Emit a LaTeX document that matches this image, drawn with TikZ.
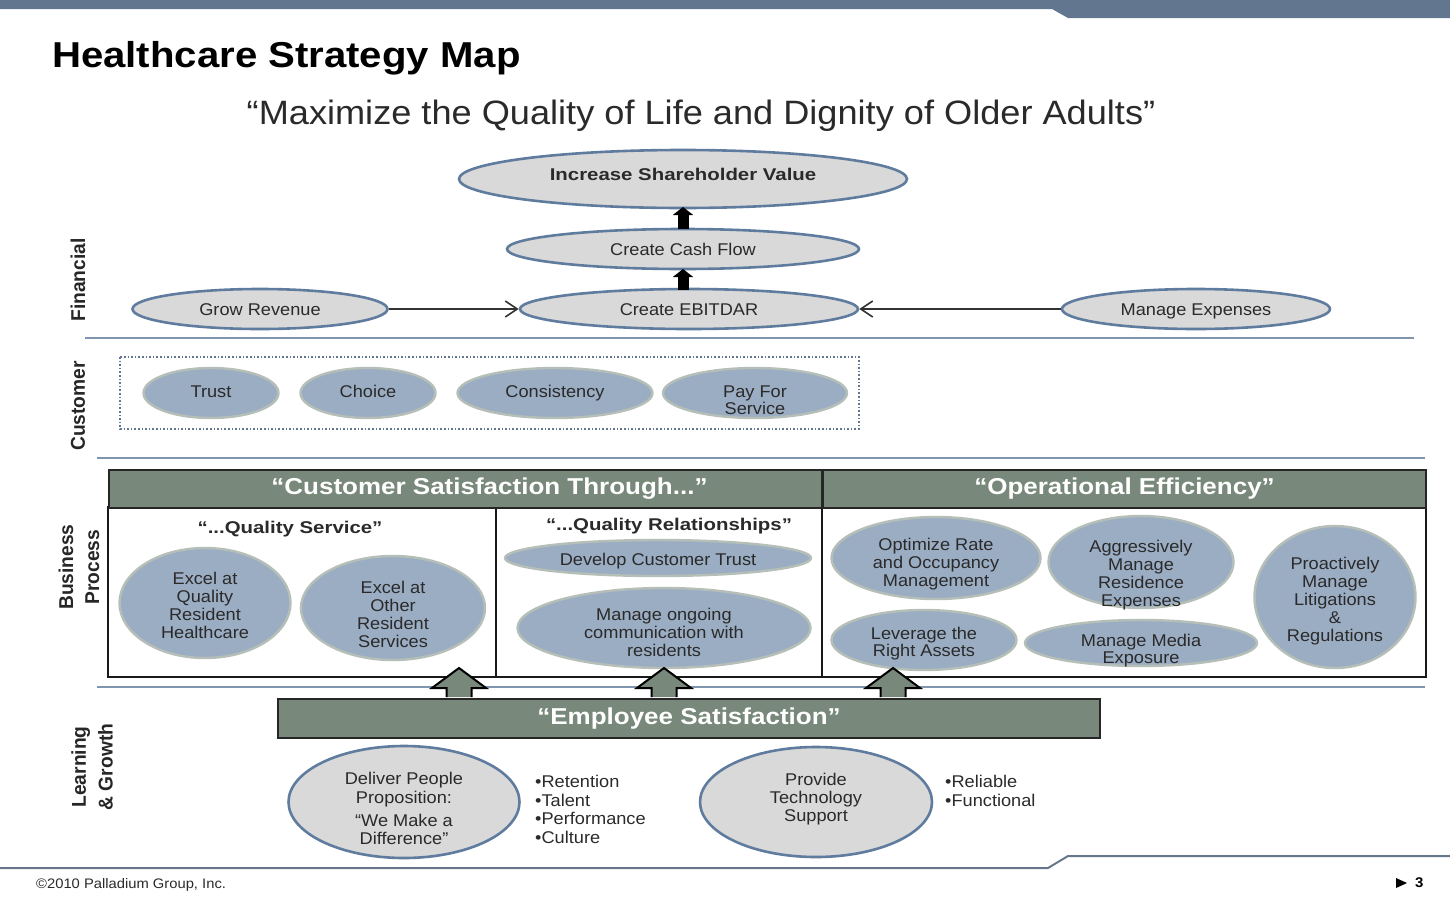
\documentclass[tikz,border=0pt]{standalone}
\usepackage{fontspec}
\setmainfont[FakeStretch=1.07]{Liberation Sans}
\newfontfamily\bfa[FakeStretch=1.2]{Liberation Sans}
\newfontfamily\bfb[FakeStretch=1.13]{Liberation Sans}
\newfontfamily\bfc[FakeStretch=1.115]{Liberation Sans}
\newfontfamily\bfd[FakeStretch=0.96]{Liberation Sans}
\usetikzlibrary{shapes.geometric,arrows.meta}
\definecolor{slate}{HTML}{62778F}
\definecolor{rulec}{HTML}{7F95AE}
\definecolor{ovalb}{HTML}{5F7C9E}
\definecolor{grayf}{HTML}{D9D9D9}
\definecolor{bluef}{HTML}{9BADC3}
\definecolor{blueb}{HTML}{B5BFB8}
\definecolor{green}{HTML}{78887A}
\definecolor{txt}{HTML}{2A2A2A}
\newcommand{\fs}[1]{\fontsize{#1}{18}\selectfont}
\newcommand{\ot}[2]{\makebox[0pt]{\raisebox{\dimexpr-#1pt-7.25pt\relax}[0pt][0pt]{\begin{tabular}{@{}c@{}}#2\end{tabular}}}}
\newcommand{\uparr}[1]{\draw[blockup] (#1) ++(-12.5,0) -- ++(0,-9) -- ++(-14.5,0) -- ++(27,-20) -- ++(27,20) -- ++(-14.5,0) -- ++(0,9);}
\tikzset{
 x=1pt,y=-1pt,
 oval/.style 2 args={ellipse,minimum width=#1,minimum height=#2,inner sep=0pt,text=txt},
 grayoval/.style={draw=ovalb,line width=2.6pt,fill=grayf},
 blueoval/.style={draw=blueb,line width=2.4pt,fill=bluef},
 t17/.style={font=\fs{17}},
 band/.style={draw=black!85,line width=2pt,fill=green,text=white,inner sep=0pt,font=\bfb\bfseries\fs{23}},
 sep/.style={draw=rulec,line width=2pt},
 side/.style={rotate=90,font=\bfd\bfseries\fs{20},align=center,text=black!85},
 blockup/.style={draw=black,line width=2pt,fill=green},
 link/.style={draw=black!80,line width=1.6pt,-{Straight Barb[length=12pt,width=16pt,line width=1.6pt]}},
 fat/.style={draw=black,line width=11pt,-{Triangle[length=8pt,width=20pt]}},
 bullets/.style={align=left,font=\fs{17},text=txt,anchor=north west,inner sep=0pt},
}
\begin{document}
\begin{tikzpicture}
\useasboundingbox (0,0) rectangle (1450,897);
% top band and footer
\fill[slate] (0,0) -- (1450,0) -- (1450,18) -- (1068,18) -- (1052,9) -- (0,9) -- cycle;
\draw[draw=rulec!80!black,line width=2pt] (0,868) -- (1048,868) -- (1068,856) -- (1450,856);
\node[anchor=west,inner sep=0pt,font=\bfc\bfseries\fs{36}] (title) at (52,58) {Healthcare Strategy Map};
\node[inner sep=0pt,font=\fs{33.8},text=txt] (sub) at (701,116) {“Maximize the Quality of Life and Dignity of Older Adults”};
% separators
\draw[sep] (85,338) -- (1414,338);
\draw[sep] (97,458) -- (1425,458);
\draw[sep] (97,687) -- (1425,687);
% side labels
\node[side] (lf) at (78,280) {Financial};
\node[side] (lc) at (78,406) {Customer};
\node[side] (lb) at (79,567) {Business\\[8pt]Process};
\node[side] (ll) at (92,767) {Learning\\[7pt]\& Growth};
% financial
\node[oval={448pt}{58pt},grayoval,font=\bfa\bfseries\fs{17}] (isv) at (683,179) {\ot{-5}{Increase Shareholder Value}};
\node[oval={352pt}{40pt},grayoval,t17] (ccf) at (683,249) {\ot{0}{Create Cash Flow}};
\node[oval={338pt}{40pt},grayoval,t17] (ebit) at (689,309) {\ot{0}{Create EBITDAR}};
\node[oval={255pt}{40pt},grayoval,t17] (grow) at (260,309) {\ot{0}{Grow Revenue}};
\node[oval={268pt}{40pt},grayoval,t17] (exp) at (1196,309) {\ot{0}{Manage Expenses}};
\draw[link] (grow) -- (ebit);
\draw[link] (exp) -- (ebit);
\coordinate (e1) at (683,290);
\coordinate (c1) at (683,269);
\coordinate (c2) at (683,229);
\coordinate (i1) at (683,207);
\draw[fat] (e1) -- (c1);
\draw[fat] (c2) -- (i1);
% customer
\draw[draw=slate,line width=1.6pt,dotted] (120,357) rectangle (859,429);
\node[oval={135pt}{50pt},blueoval,t17] (tr) at (211,393) {\ot{-2}{Trust}};
\node[oval={135pt}{50pt},blueoval,t17] (ch) at (368,393) {\ot{-2}{Choice}};
\node[oval={195pt}{50pt},blueoval,t17] (co) at (555,393) {\ot{-2}{Consistency}};
\node[oval={184pt}{50pt},blueoval,t17] (pa) at (755,393) {\ot{6.5}{Pay For\\[-1pt]Service}};
% business process
\draw[black!90,line width=2.4pt,fill=white] (108,507) rectangle (1426,677);
\draw[black!90,line width=2.4pt] (496,507) -- (496,677);
\draw[black!90,line width=2.4pt] (822,507) -- (822,677);
\node[band,minimum width=713pt,minimum height=38pt,anchor=north west] (h1) at (108,469) {\hspace*{48pt}“Customer Satisfaction Through...”};
\node[band,minimum width=603pt,minimum height=38pt,anchor=north west] (h2) at (822,469) {“Operational Efficiency”};
\node[inner sep=0pt,font=\bfa\bfseries\fs{17},text=txt] (qs) at (290,529) {“...Quality Service”};
\node[inner sep=0pt,font=\bfa\bfseries\fs{17},text=txt] (qr) at (669,526) {“...Quality Relationships”};
\node[oval={171pt}{110pt},blueoval,t17] (a1) at (205,603) {\ot{2}{Excel at\\Quality\\Resident\\Healthcare}};
\node[oval={184pt}{104pt},blueoval,t17] (a2) at (393,608) {\ot{6}{Excel at\\Other\\Resident\\Services}};
\node[oval={306pt}{36pt},blueoval,t17] (b1) at (658,558) {\ot{1}{Develop Customer Trust}};
\node[oval={293pt}{80pt},blueoval,t17] (b2) at (664,628) {\ot{4}{Manage ongoing\\communication with\\residents}};
\node[oval={209pt}{82pt},blueoval,t17] (c1o) at (936,558) {\ot{4}{Optimize Rate\\and Occupancy\\Management}};
\node[oval={185pt}{92pt},blueoval,t17] (c2o) at (1141,562) {\ot{11}{Aggressively\\Manage\\Residence\\Expenses}};
\node[oval={161pt}{142pt},blueoval,t17] (c3o) at (1335,597) {\ot{2}{Proactively\\Manage\\Litigations\\\&\\Regulations}};
\node[oval={185pt}{60pt},blueoval,t17] (c4o) at (924,640) {\ot{1}{Leverage the\\[-1pt]Right Assets}};
\node[oval={232pt}{46pt},blueoval,t17] (c5o) at (1141,643) {\ot{5.5}{Manage Media\\[-1pt]Exposure}};
% employee bar and arrows
\node[band,minimum width=822pt,minimum height=39pt,anchor=north west] (emp) at (277,698) {“Employee Satisfaction”};
\coordinate (u1) at (459,697);
\coordinate (u2) at (664,697);
\coordinate (u3) at (893,697);
\uparr{u1}
\uparr{u2}
\uparr{u3}
% learning
\node[oval={231pt}{112pt},grayoval,t17] (dp) at (404,802) {\ot{6}{Deliver People\\[1pt]Proposition:\\[5pt]“We Make a\\Difference”}};
\node[oval={232pt}{110pt},grayoval,t17] (pt) at (816,802) {\ot{-5}{Provide\\Technology\\Support}};
\node[bullets] (bl1) at (535,775) {•Retention\\[0.7pt]•Talent\\[0.7pt]•Performance\\[0.7pt]•Culture};
\node[bullets] (bl2) at (945,775) {•Reliable\\[0.7pt]•Functional};
% footer
\node[anchor=west,inner sep=0pt,font=\fs{13.8},text=txt] (cp) at (36,885) {©2010 Palladium Group, Inc.};
\fill[black] (1396,878) -- (1407,883) -- (1396,888) -- cycle;
\node[anchor=west,inner sep=0pt,font=\bfseries\fs{14}] (pg) at (1415,883) {3};
\end{tikzpicture}
\end{document}
